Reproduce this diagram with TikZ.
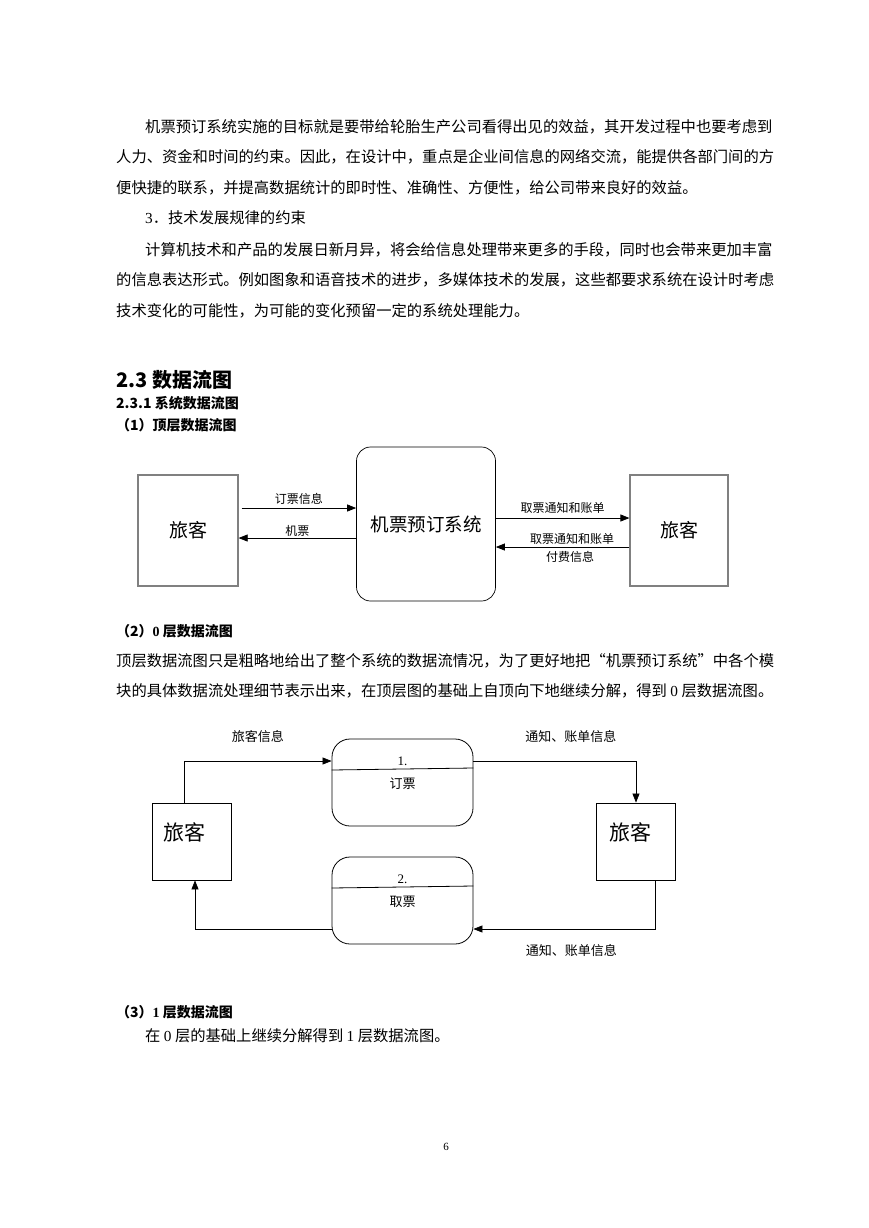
\documentclass[tikz,border=0pt]{standalone}
\usepackage{fontspec}
\setmainfont{Liberation Serif}
\newfontfamily\cjk{Noto Sans CJK SC}
\usetikzlibrary{arrows.meta,positioning,calc}

\begin{document}
\begin{tikzpicture}[x=1pt,y=-1pt,
    body/.style={anchor=west,inner sep=0pt,font=\cjk\fontsize{15.3}{18}\selectfont},
    head/.style={anchor=west,inner sep=0pt,font=\cjk\bfseries\fontsize{14}{16}\selectfont},
    sidebox/.style={draw=gray,line width=1.2pt,minimum width=100pt,minimum height=111pt,font=\cjk\fontsize{19}{21}\selectfont},
    sysbox/.style={draw,line width=0.7pt,rounded corners=14pt,minimum width=139pt,minimum height=154pt,font=\cjk\fontsize{18.5}{21}\selectfont},
    entbox/.style={draw,line width=0.8pt,minimum width=79pt,minimum height=77pt},
    procbox/.style={draw,line width=0.8pt,rounded corners=18pt,minimum width=141pt,minimum height=87pt},
    bigtxt/.style={inner sep=0pt,font=\cjk\fontsize{21}{23}\selectfont},
    numtxt/.style={inner sep=0pt,font=\fontsize{13}{15}\selectfont},
    flow/.style={-{Triangle[length=9pt,width=7pt]},line width=0.7pt},
    lbl/.style={inner sep=0pt,font=\cjk\fontsize{12}{14}\selectfont},
    lblb/.style={inner sep=0pt,font=\cjk\fontsize{13}{15}\selectfont}
  ]
    \fill[white] (0,0) rectangle (869,1228);
    \useasboundingbox (0,0) rectangle (869,1228);

    % text above the figures
    \node[body] (p1l1) at (145,127) {机票预订系统实施的目标就是要带给轮胎生产公司看得出见的效益，其开发过程中也要考虑到};
    \node[body] (p1l2) at (116,157) {人力、资金和时间的约束。因此，在设计中，重点是企业间信息的网络交流，能提供各部门间的方};
    \node[body] (p1l3) at (116,188) {便快捷的联系，并提高数据统计的即时性、准确性、方便性，给公司带来良好的效益。};
    \node[body] (p2h) at (145,218) {{\rmfamily 3}．技术发展规律的约束};
    \node[body] (p2l1) at (145,250) {计算机技术和产品的发展日新月异，将会给信息处理带来更多的手段，同时也会带来更加丰富};
    \node[body] (p2l2) at (116,280) {的信息表达形式。例如图象和语音技术的进步，多媒体技术的发展，这些都要求系统在设计时考虑};
    \node[body] (p2l3) at (116,311) {技术变化的可能性，为可能的变化预留一定的系统处理能力。};

    \node[head,font=\cjk\bfseries\fontsize{20}{22}\selectfont] (sec) at (116,380) {2.3 数据流图};
    \node[head] (subsec) at (116,403) {2.3.1 系统数据流图};
    \node[head] (h1) at (116,425) {（1）顶层数据流图};

    % top level diagram
    \node[sidebox] (cust1) at (188,530.5) {旅客};
    \node[sysbox] (sys) at (426,524) {机票预订系统};
    \node[sidebox,minimum width=98pt] (cust2) at (679,530.5) {旅客};

    \coordinate (a1s) at ([xshift=3pt,yshift=22.5pt]cust1.east);
    \draw[flow] (a1s) -- (a1s -| sys.west) node[lbl,midway,above=3pt] (la1) {订票信息};
    \coordinate (a2s) at ([yshift=-14pt]sys.west);
    \draw[flow] (a2s) -- (a2s -| cust1.east) node[lbl,midway,above=1pt] (la2) {机票};
    \coordinate (a3s) at ([yshift=6pt]sys.east);
    \draw[flow] (a3s) -- (a3s -| cust2.west) node[lbl,midway,above=4pt] (la3) {取票通知和账单};
    \coordinate (a4s) at ([yshift=-16.5pt]cust2.west);
    \draw[flow] (a4s) -- (a4s -| sys.east)
        node[lbl,midway,above=2pt,xshift=9.5pt] (la4) {取票通知和账单}
        node[lbl,midway,below=4pt,xshift=7.5pt] (la5) {付费信息};

    % level 0 text
    \node[head] (h2) at (116,631) {（2）{\rmfamily\bfseries 0} 层数据流图};
    \node[body] (p3l1) at (116,661) {顶层数据流图只是粗略地给出了整个系统的数据流情况，为了更好地把“机票预订系统”中各个模};
    \node[body] (p3l2) at (116,691) {块的具体数据流处理细节表示出来，在顶层图的基础上自顶向下地继续分解，得到 {\rmfamily 0} 层数据流图。};

    % level 0 diagram
    \node[entbox] (cust3) at (191.5,841.5) {};
    \node[bigtxt] (cust3t) at ([xshift=-7pt,yshift=9.5pt]cust3.center) {旅客};
    \node[entbox] (cust4) at (636,841.5) {};
    \node[bigtxt] (cust4t) at ([xshift=-6pt,yshift=9.5pt]cust4.center) {旅客};

    \node[procbox] (book) at (402.5,782.5) {};
    \draw[line width=0.8pt] ([yshift=12.5pt]book.west) -- ([yshift=14.5pt]book.east);
    \node[numtxt] (booknum) at ([yshift=21.5pt]book.center) {1.};
    \node[lblb] (booktxt) at ([yshift=-1.5pt]book.center) {订票};

    \node[procbox] (take) at (402.5,900.5) {};
    \draw[line width=0.8pt] ([yshift=12.5pt]take.west) -- ([yshift=14.5pt]take.east);
    \node[numtxt] (takenum) at ([yshift=21.5pt]take.center) {2.};
    \node[lblb] (taketxt) at ([yshift=-1.5pt]take.center) {取票};

    \coordinate (f1s) at ([xshift=-7.5pt]cust3.north);
    \coordinate (f1e) at ([yshift=21.5pt]book.west);
    \draw[flow] (f1s) |- (f1e) node[lblb,pos=0.75,above=18pt] (lf1) {旅客信息};
    \coordinate (f2s) at ([yshift=21.5pt]book.east);
    \draw[flow] (f2s) -| (cust4.north) node[lblb,pos=0.3,above=18pt] (lf2) {通知、账单信息};
    \coordinate (f3s) at ([xshift=19pt]cust4.south);
    \coordinate (f3e) at ([yshift=-28.5pt]take.east);
    \draw[flow] (f3s) |- (f3e) node[lblb,pos=0.73,below=15.5pt] (lf3) {通知、账单信息};
    \coordinate (f4s) at ([yshift=-28.5pt]take.west);
    \coordinate (f4e) at ([xshift=3.5pt]cust3.south);
    \draw[flow] (f4s) -| (f4e);

    % level 1 text
    \node[head] (h3) at (116,1012) {（3）{\rmfamily\bfseries 1} 层数据流图};
    \node[body] (p4l1) at (145,1036) {在 {\rmfamily 0} 层的基础上继续分解得到 {\rmfamily 1} 层数据流图。};

    \node[font=\fontsize{11}{13}\selectfont] (pgno) at (446,1147) {6};
\end{tikzpicture}
\end{document}
